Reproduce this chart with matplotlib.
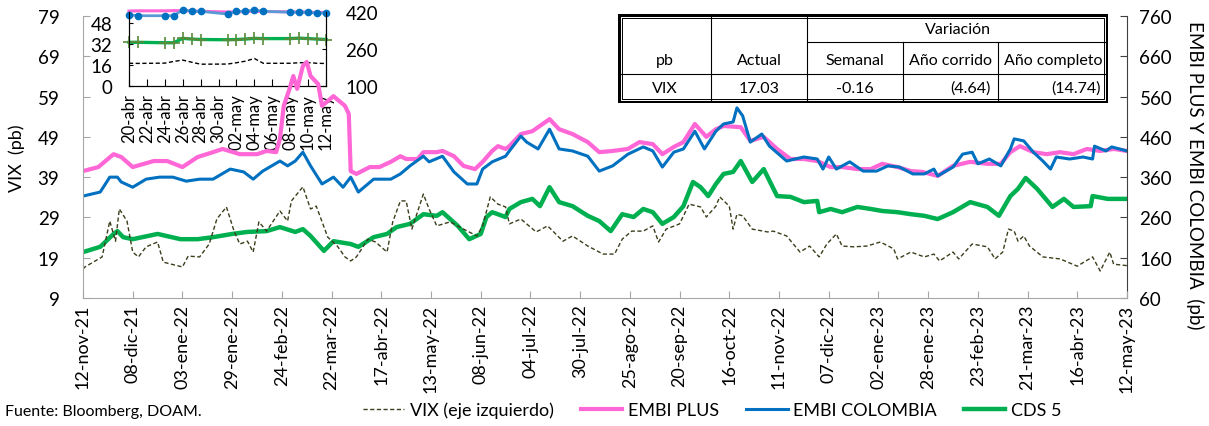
import pandas as pd
import matplotlib
matplotlib.use('Agg')
import matplotlib.pyplot as plt

plt.rcParams['font.family'] = ['Lato', 'DejaVu Sans']

PINK = '#FF66D6'
BLUE = '#0070C0'
GREEN = '#00B050'
VIXC = '#3D3D1C'

start = pd.Timestamp('2021-11-12')

x_labels = ['12-nov-21', '08-dic-21', '03-ene-22', '29-ene-22', '24-feb-22', '22-mar-22',
            '17-abr-22', '13-may-22', '08-jun-22', '04-jul-22', '30-jul-22', '25-ago-22',
            '20-sep-22', '16-oct-22', '11-nov-22', '07-dic-22', '02-ene-23', '28-ene-23',
            '23-feb-23', '21-mar-23', '16-abr-23', '12-may-23']

# series: days counted from 12-nov-21, values in pb
embi_plus_days = [0, 8, 16, 20, 26, 37, 44, 52, 60, 68, 73, 82, 91, 96, 101, 103, 105, 108, 110,
                  112, 115, 117, 119, 123, 125, 131, 137, 139, 140, 143, 150, 155, 161, 166, 169,
                  175, 178, 185, 188, 194, 199, 205, 209, 214, 217, 221, 223, 229, 235, 244, 249,
                  256, 264, 270, 277, 285, 291, 298, 303, 309, 314, 320, 326, 331, 335, 344, 349,
                  356, 363, 370, 377, 384, 391, 397, 405, 412, 418, 426, 433, 439, 447, 455, 464,
                  473, 480, 485, 490, 497, 504, 511, 518, 525, 532, 539, 546]
embi_plus = [375, 385, 417, 410, 385, 400, 400, 385, 410, 422, 430, 417, 417, 425, 422, 455, 537,
             579, 611, 579, 636, 646, 611, 591, 537, 561, 537, 517, 375, 368, 385, 385, 398, 412,
             405, 405, 422, 422, 425, 412, 388, 380, 398, 425, 437, 430, 437, 467, 474, 504, 479,
             467, 447, 422, 425, 430, 447, 442, 417, 435, 447, 492, 460, 479, 487, 484, 450, 460,
             430, 405, 405, 400, 385, 385, 380, 380, 393, 385, 375, 373, 363, 388, 398, 393, 393,
             422, 437, 422, 417, 422, 417, 430, 425, 430, 425]

embi_col_days = [0, 9, 14, 18, 20, 26, 33, 40, 47, 54, 61, 68, 77, 84, 89, 94, 103, 107, 111, 115,
                 119, 125, 131, 136, 140, 144, 152, 161, 166, 171, 178, 181, 188, 194, 201, 206,
                 209, 214, 221, 223, 229, 232, 238, 244, 249, 256, 264, 270, 277, 285, 293, 298,
                 303, 309, 314, 320, 325, 331, 335, 340, 342, 345, 349, 355, 359, 368, 377, 384,
                 387, 390, 394, 401, 408, 415, 421, 427, 434, 440, 445, 447, 455, 460, 465, 468,
                 474, 480, 485, 487, 492, 497, 502, 506, 509, 516, 523, 528, 529, 535, 538, 546]
embi_col = [313, 323, 360, 360, 348, 335, 355, 360, 360, 350, 355, 355, 380, 373, 355, 375, 400,
            388, 400, 422, 388, 343, 360, 335, 360, 323, 355, 355, 368, 388, 412, 398, 412, 373,
            343, 343, 380, 398, 412, 425, 462, 447, 430, 479, 430, 425, 412, 375, 388, 417, 435,
            425, 385, 422, 430, 474, 430, 474, 492, 497, 532, 512, 447, 467, 437, 400, 410, 405,
            380, 410, 380, 398, 375, 375, 388, 385, 368, 368, 380, 363, 385, 417, 422, 393, 405,
            388, 430, 455, 450, 422, 400, 380, 410, 405, 410, 405, 437, 425, 435, 425]

cds_days = [0, 9, 16, 18, 21, 26, 39, 51, 60, 68, 78, 86, 96, 103, 111, 115, 119, 126, 131, 140,
            144, 152, 159, 164, 171, 178, 185, 188, 196, 202, 208, 211, 214, 221, 223, 229, 235,
            239, 244, 249, 256, 264, 270, 276, 282, 288, 293, 298, 303, 309, 314, 319, 323, 327,
            331, 335, 340, 344, 350, 356, 363, 370, 377, 384, 385, 391, 397, 405, 412, 418, 426,
            433, 440, 447, 455, 464, 473, 479, 485, 489, 493, 499, 507, 513, 518, 527, 528, 536,
            546]
cds = [174, 187, 219, 226, 211, 206, 219, 206, 206, 211, 219, 224, 226, 236, 224, 231, 214, 177,
       201, 194, 187, 211, 219, 236, 244, 268, 264, 273, 239, 206, 219, 261, 273, 261, 281, 298,
       306, 288, 335, 298, 288, 264, 251, 226, 268, 261, 281, 273, 244, 261, 288, 348, 335, 313,
       343, 368, 373, 400, 348, 380, 313, 311, 298, 301, 273, 281, 273, 286, 281, 276, 273, 268,
       264, 256, 273, 298, 286, 264, 313, 331, 358, 331, 286, 306, 286, 288, 313, 306, 306]

vix_days = [0, 1, 10, 14, 17, 19, 23, 26, 29, 33, 39, 42, 52, 55, 61, 66, 70, 75, 79, 82, 86, 89,
            92, 96, 103, 107, 109, 115, 119, 122, 128, 133, 137, 140, 143, 149, 153, 159, 162,
            166, 169, 172, 178, 181, 185, 192, 199, 206, 209, 213, 217, 221, 223, 229, 237, 243,
            251, 256, 264, 272, 278, 282, 287, 293, 298, 301, 305, 312, 317, 323, 326, 331, 333,
            338, 340, 342, 345, 350, 358, 361, 368, 375, 380, 385, 389, 394, 397, 403, 410, 417,
            424, 426, 433, 440, 445, 448, 455, 458, 465, 473, 477, 481, 484, 487, 489, 492, 495,
            502, 511, 520, 528, 532, 537, 539, 546]
vix = [16.2, 16.7, 19.2, 28.1, 23.1, 31.1, 28.1, 20.4, 19.2, 21.7, 22.9, 17.9, 16.7, 19.4, 19.2,
       22.4, 28.6, 31.6, 25.6, 22.4, 23.1, 20.4, 27.9, 25.6, 30.6, 28.1, 33.1, 36.6, 31.1, 31.8,
       24.1, 21.9, 19.2, 18.2, 19.2, 23.6, 22.9, 20.4, 27.9, 33.1, 33.1, 26.1, 34.8, 31.1, 26.9,
       27.9, 26.1, 24.4, 26.9, 34.1, 32.3, 31.6, 27.4, 28.6, 25.4, 26.9, 23.1, 24.4, 21.9, 19.9,
       19.9, 23.6, 25.6, 25.6, 26.9, 22.9, 26.1, 27.4, 32.3, 31.6, 29.1, 31.8, 34.1, 31.8, 26.1,
       29.8, 29.4, 26.1, 25.4, 25.6, 24.4, 20.4, 21.9, 19.2, 22.4, 24.9, 21.9, 21.7, 21.9, 22.9,
       21.2, 18.7, 20.4, 19.2, 19.9, 18.2, 20.4, 18.7, 22.4, 21.7, 18.7, 20.4, 26.1, 25.6, 23.1,
       24.4, 21.9, 19.2, 18.7, 16.9, 19.2, 15.7, 20.4, 17.4, 17.03]

# last four weeks (inset)
ins_dates = ['2023-04-20', '2023-04-21', '2023-04-24', '2023-04-25', '2023-04-26', '2023-04-27',
             '2023-04-28', '2023-05-01', '2023-05-02', '2023-05-03', '2023-05-04', '2023-05-05',
             '2023-05-08', '2023-05-09', '2023-05-10', '2023-05-11', '2023-05-12']
ins_vix = [17.2, 17.1, 17.3, 18.6, 19.6, 18.0, 16.5, 16.6, 17.6, 18.8, 20.8, 17.19, 17.2, 17.6,
           17.7, 17.2, 17.03]
ins_plus = [424, 425, 425, 426, 426, 424, 423, 420, 421, 422, 423, 422, 421, 420, 419, 418, 418]
ins_col = [408, 404, 404, 404, 430, 423, 423, 411, 423, 423, 429, 423, 419, 419, 419, 414, 416]
ins_cds = [289, 289, 287, 287, 306, 303, 301, 300, 301, 303, 306, 305, 305, 307, 305, 303, 301]
ins_labels = ['20-abr', '22-abr', '24-abr', '26-abr', '28-abr', '30-abr',
              '02-may', '04-may', '06-may', '08-may', '10-may', '12-may']

table_head = ['pb', 'Actual', 'Semanal', 'Año corrido', 'Año completo']
table_row = ['VIX', '17.03', '-0.16', '(4.64)', '(14.74)']


def to_dates(days):
    return start + pd.to_timedelta(days, unit='D')


W, H = 1209, 427
fig = plt.figure(figsize=(W / 100, H / 100), dpi=100)

# main chart: VIX on the left axis, spreads on the right axis
ax = fig.add_axes([83 / W, 1 - 299 / H, 1044 / W, 282 / H])
ax2 = ax.twinx()
ax.set_zorder(2)
ax2.set_zorder(1)
ax.patch.set_visible(False)

l_plus, = ax2.plot(to_dates(embi_plus_days), embi_plus, color=PINK, lw=3.0,
                   solid_joinstyle='round')
l_col, = ax2.plot(to_dates(embi_col_days), embi_col, color=BLUE, lw=2.2,
                  solid_joinstyle='round')
l_cds, = ax2.plot(to_dates(cds_days), cds, color=GREEN, lw=3.2, solid_joinstyle='round')
l_vix, = ax.plot(to_dates(vix_days), vix, color=VIXC, lw=1.0, dashes=(3, 1.8))

tick_dates = pd.date_range(start, periods=len(x_labels), freq='26D')
ax.set_xlim(tick_dates[0], tick_dates[-1])
ax.set_xticks(tick_dates)
ax.set_xticklabels(x_labels, rotation=90, fontsize=13)
ax.set_ylim(9, 79)
ax.set_yticks(range(9, 80, 10))
ax2.set_ylim(60, 760)
ax2.set_yticks(range(60, 761, 100))

ax.tick_params(axis='x', direction='in', length=5, color='#A6A6A6', pad=4)
ax.tick_params(axis='y', direction='in', length=5, color='#A6A6A6', pad=17, labelsize=13.5)
ax2.tick_params(axis='y', direction='in', length=5, color='#404040', pad=9, labelsize=13.5)

for s in ['top', 'right']:
    ax.spines[s].set_visible(False)
for s in ['top', 'left', 'bottom']:
    ax2.spines[s].set_visible(False)
ax.spines['left'].set_color('#A6A6A6')
ax.spines['bottom'].set_color('#A6A6A6')
ax2.spines['right'].set_color('#404040')

ax.set_ylabel('VIX  (pb)', fontsize=13)
ax.yaxis.set_label_coords(-0.056, 0.5)
ax2.set_ylabel('EMBI PLUS Y EMBI COLOMBIA  (pb)', fontsize=13.5, rotation=270, va='center')
ax2.yaxis.set_label_coords(1.065, 0.44)

# inset: last weeks
ins = fig.add_axes([129 / W, 1 - 87 / H, 197 / W, 74 / H])
ins2 = ins.twinx()
ins.patch.set_visible(False)
ins2.patch.set_visible(False)
d_ins = pd.to_datetime(ins_dates)
ins.plot(d_ins, ins_vix, color='black', lw=1.0, dashes=(3, 1.8))
ins2.plot(d_ins, ins_plus, color=PINK, lw=2.2, clip_on=False)
ins2.plot(d_ins, ins_col, color='#5B9BD5', lw=2.0, marker='o', ms=4.5, mfc=BLUE, mec=BLUE,
          clip_on=False)
ins2.plot(d_ins, ins_cds, color=GREEN, lw=2.4, marker='+', ms=9, mew=1.2, mec='#5A8A3A',
          clip_on=False)

ins_ticks = pd.date_range(ins_dates[0], ins_dates[-1], freq='2D')
ins.set_xlim(d_ins[0], d_ins[-1])
ins.set_xticks(ins_ticks)
ins.set_xticklabels(ins_labels, rotation=90, fontsize=12)
ins.set_ylim(0, 56)
ins.set_yticks([0, 16, 32, 48])
ins2.set_ylim(100, 420)
ins2.set_yticks([100, 260, 420])
ins.tick_params(axis='x', direction='in', length=5, pad=5)
ins.tick_params(axis='y', direction='in', length=3, pad=12, labelsize=13.5)
ins2.tick_params(axis='y', direction='in', length=3, pad=14, labelsize=13.5)
for a in (ins, ins2):
    a.spines['top'].set_visible(False)

# summary table
tab = fig.add_axes([618 / W, 1 - 104 / H, 490 / W, 89 / H])
tab.set_zorder(5)
tab.set_xlim(0, 490)
tab.set_ylim(89, 0)
tab.set_xticks([])
tab.set_yticks([])
for s in tab.spines.values():
    s.set_visible(False)
tab.set_facecolor('white')
cols = [0, 93, 189, 285, 380, 490]
rows = [0, 28, 60, 89]
lk = dict(color='black', lw=0.8)
tab.plot([cols[1]] * 2, [0, 89], **lk)
tab.plot([cols[2]] * 2, [0, 89], **lk)
tab.plot([cols[3]] * 2, [rows[1], 89], **lk)
tab.plot([cols[4]] * 2, [rows[1], 89], **lk)
tab.plot([cols[2], 490], [rows[1]] * 2, **lk)
tab.plot([0, 490], [rows[2]] * 2, **lk)
tab.plot([1, 489, 489, 1, 1], [1, 1, 88, 88, 1], color='black', lw=2.2)
tab.plot([4, 486, 486, 4, 4], [4, 4, 85, 85, 4], color='black', lw=0.7)
fs_tab = 11.5
tab.text((cols[2] + cols[5]) / 2, 15, 'Variación', ha='center', va='center', fontsize=fs_tab)
for i, h in enumerate(table_head):
    tab.text((cols[i] + cols[i + 1]) / 2, 46, h, ha='center', va='center', fontsize=fs_tab)
for i, v in enumerate(table_row):
    if i >= 3:
        tab.text(cols[i + 1] - 7, 74, v, ha='right', va='center', fontsize=fs_tab)
    else:
        tab.text((cols[i] + cols[i + 1]) / 2, 74, v, ha='center', va='center', fontsize=fs_tab)

fig.legend([l_vix, l_plus, l_col, l_cds],
           ['VIX (eje izquierdo)', 'EMBI PLUS', 'EMBI COLOMBIA', 'CDS 5'],
           loc='center', bbox_to_anchor=(712 / W, 1 - 411 / H), ncol=4, frameon=False,
           fontsize=13, handlelength=2.3, handletextpad=0.3, columnspacing=1.5)
fig.text(5 / W, 1 - 412 / H, 'Fuente: Bloomberg, DOAM.', fontsize=11.5, va='center')

fig.savefig('out.png', dpi=100)
